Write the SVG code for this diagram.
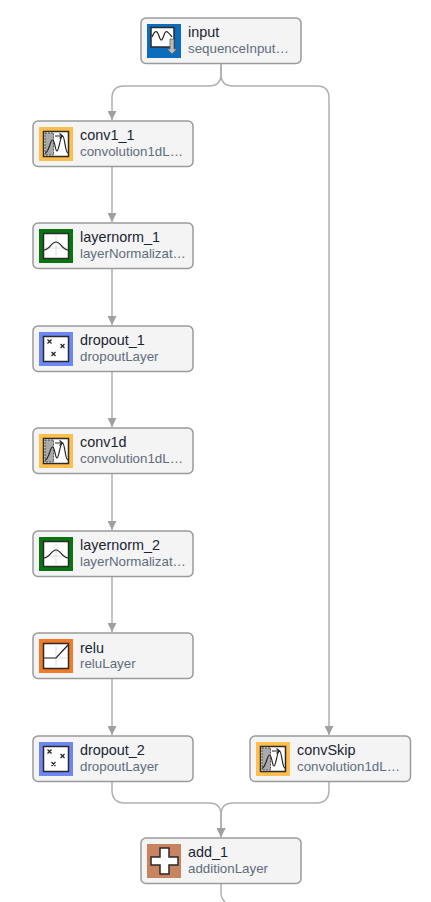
<svg xmlns="http://www.w3.org/2000/svg" width="431" height="902" viewBox="0 0 431 902">
<style>
.box{fill:#f4f4f4;stroke:#9a9a9a;stroke-width:1.5}
.t{font-family:"Liberation Sans",Arial,sans-serif;font-size:14.4px;fill:#1a2433}
.s{font-family:"Liberation Sans",Arial,sans-serif;font-size:13.33px;fill:#616c7c}
.c{fill:none;stroke:#b0b0b0;stroke-width:1.5}
.w{fill:#fff;stroke:#2a2a2a;stroke-width:1.5}
.g{fill:none;stroke:#d4d4d4;stroke-width:.8}
.k{fill:none;stroke:#222;stroke-width:1.2}
</style>
<defs>
<marker id="a" markerUnits="userSpaceOnUse" markerWidth="10" markerHeight="9" refX="9" refY="4.5" orient="auto"><path d="M0 0L9 4.5L0 9Z" fill="#a0a0a0"/></marker>
<g id="i-conv"><rect width="34" height="34" fill="#ffbe4d"/><rect x="4.500" y="4.500" width="25" height="25" class="w"/><rect x="6" y="6" width="8.500" height="22" fill="#aaa" stroke="#333" stroke-width=".8" stroke-dasharray="2 1"/><path d="M6 26C10 26 11 13 13.500 13S16 24 18 24S21 9 23.500 9S26 26 29 26" class="k"/><path d="M16 9H23M20.500 6.500L23.500 9L20.500 11.500" class="k"/></g>
<g id="i-norm"><rect width="34" height="34" fill="#0a7412"/><rect x="4.500" y="4.500" width="25" height="25" class="w"/><path d="M17 5V29M5 19H29" class="g"/><path d="M5 21C11 21 12 13 17 13S23 21 29 21" class="k"/></g>
<g id="i-drop"><rect width="34" height="34" fill="#6d87f5"/><rect x="4.500" y="4.500" width="25" height="25" class="w"/><path d="M8.500 7.500L12.500 11.500M12.500 7.500L8.500 11.500M21.500 12L25.500 16M25.500 12L21.500 16M12.500 20L16.500 24M16.500 20L12.500 24" class="k"/></g>
<g id="i-relu"><rect width="34" height="34" fill="#f27b2b"/><rect x="4.500" y="4.500" width="25" height="25" class="w"/><path d="M17 5V29M5 19H29" class="g"/><path d="M5 19H17L29 6" class="k" stroke-width="1.500"/></g>
</defs>
<g id="connectors">
<path class="c" d="M221 64V74Q221 86 209 86H124Q112 86 112 98V120" marker-end="url(#a)"/>
<path class="c" d="M221 64V74Q221 86 233 86H317Q329 86 329 98V735" marker-end="url(#a)"/>
<path class="c" d="M112 167V222" marker-end="url(#a)"/>
<path class="c" d="M112 269V325" marker-end="url(#a)"/>
<path class="c" d="M112 372V427" marker-end="url(#a)"/>
<path class="c" d="M112 474V530" marker-end="url(#a)"/>
<path class="c" d="M112 577V632" marker-end="url(#a)"/>
<path class="c" d="M112 679V735" marker-end="url(#a)"/>
<path class="c" d="M112 782V790Q112 803 125 803H209Q221 803 221 815V837" marker-end="url(#a)"/>
<path class="c" d="M329 782V790Q329 803 316 803H233Q221 803 221 815V837" marker-end="url(#a)"/>
<path class="c" d="M221 884V894Q221 898 225 902"/>
</g>
<g id="input"><rect class="box" x="141" y="18" width="160" height="45.500" rx="5"/><rect x="147" y="24" width="34" height="34" fill="#0e6cbd"/><rect x="151" y="27.500" width="23" height="19.500" class="w"/><path d="M152 37C155 30 157 30 159 36S162 41 164 35S168 32 172 37" class="k"/><path d="M170 39H174V49H177L172 54L167 49H170Z" fill="#bbb" stroke="#555" stroke-width=".7"/><text class="t" x="188" y="37">input</text><text class="s" x="188" y="53">sequenceInput…</text></g>
<g id="conv1_1"><rect class="box" x="33" y="121" width="160" height="45.500" rx="5"/><use href="#i-conv" x="39" y="127"/><text class="t" x="80" y="140">conv1_1</text><text class="s" x="80" y="156">convolution1dL…</text></g>
<g id="layernorm_1"><rect class="box" x="33" y="223" width="160" height="45.500" rx="5"/><use href="#i-norm" x="39" y="229"/><text class="t" x="80" y="242">layernorm_1</text><text class="s" x="80" y="258">layerNormalizat…</text></g>
<g id="dropout_1"><rect class="box" x="33" y="326" width="160" height="45.500" rx="5"/><use href="#i-drop" x="39" y="332"/><text class="t" x="80" y="345">dropout_1</text><text class="s" x="80" y="361">dropoutLayer</text></g>
<g id="conv1d"><rect class="box" x="33" y="428" width="160" height="45.500" rx="5"/><use href="#i-conv" x="39" y="434"/><text class="t" x="80" y="447">conv1d</text><text class="s" x="80" y="463">convolution1dL…</text></g>
<g id="layernorm_2"><rect class="box" x="33" y="531" width="160" height="45.500" rx="5"/><use href="#i-norm" x="39" y="537"/><text class="t" x="80" y="550">layernorm_2</text><text class="s" x="80" y="566">layerNormalizat…</text></g>
<g id="relu"><rect class="box" x="33" y="633" width="160" height="45.500" rx="5"/><use href="#i-relu" x="39" y="639"/><text class="t" x="80" y="653">relu</text><text class="s" x="80" y="668">reluLayer</text></g>
<g id="dropout_2"><rect class="box" x="33" y="736" width="160" height="45.500" rx="5"/><use href="#i-drop" x="39" y="742"/><text class="t" x="80" y="755">dropout_2</text><text class="s" x="80" y="771">dropoutLayer</text></g>
<g id="convSkip"><rect class="box" x="250" y="736" width="160.500" height="45.500" rx="5"/><use href="#i-conv" x="256" y="742"/><text class="t" x="297" y="755">convSkip</text><text class="s" x="297" y="771">convolution1dL…</text></g>
<g id="add_1"><rect class="box" x="141" y="838" width="160" height="45.500" rx="5"/><rect x="147" y="844" width="34" height="34" fill="#c8835f"/><path d="M160 848H169V857H178V865H169V874H160V865H151V857H160Z" class="w"/><text class="t" x="188" y="857">add_1</text><text class="s" x="188" y="873">additionLayer</text></g>
</svg>
